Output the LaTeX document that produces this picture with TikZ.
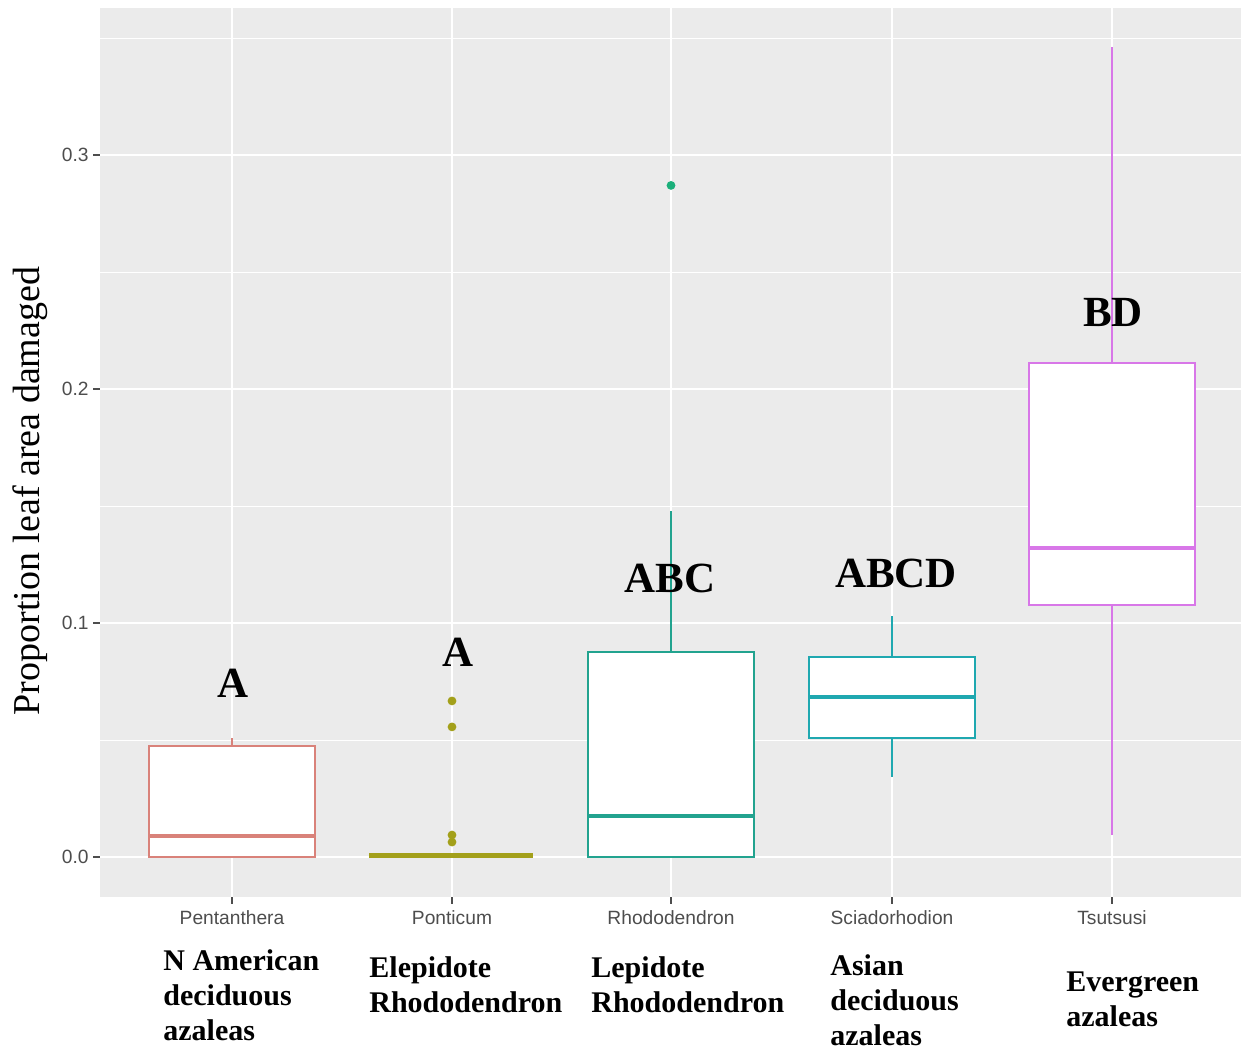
\documentclass[tikz,border=0pt]{standalone}
\usepackage{fontspec}
\setmainfont{Liberation Serif}
\newfontfamily\axisfont{Liberation Sans}
\definecolor{panelgray}{HTML}{EBEBEB}
\definecolor{ticktext}{HTML}{4D4D4D}
\definecolor{pentcol}{HTML}{D9827A}
\definecolor{ponticol}{HTML}{A3A01A}
\definecolor{rhodocol}{HTML}{22A38F}
\definecolor{sciacol}{HTML}{1FA8B0}
\definecolor{tsutcol}{HTML}{D877E8}
\definecolor{outcol}{HTML}{1BAF7A}
\tikzset{
  majorgrid/.style={white, line width=1pt},
  minorgrid/.style={white, line width=0.5pt},
  axtick/.style={ticktext, line width=0.6pt},
  ticklab/.style={font=\axisfont\fontsize{9.6}{11}\selectfont, text=ticktext, inner sep=0pt},
  boxbody/.style={fill=white, line width=1pt},
  medline/.style={line width=1.7pt},
  whisk/.style={line width=0.8pt},
  sigletter/.style={font=\bfseries\fontsize{21.5}{24}\selectfont, anchor=base, inner sep=0pt},
  grouplab/.style={font=\bfseries\fontsize{15}{17.5}\selectfont, align=left, anchor=base west, inner sep=0pt}
}
\begin{document}
\begin{tikzpicture}[x=0.5pt, y=-0.5pt]
\useasboundingbox (0,0) rectangle (1241,1051);
\begin{scope}
\clip (0,0) rectangle (1241,1051);
\fill[panelgray] (100,8) rectangle (1243,897);
\foreach \yy in {38,272,506,740} \draw[minorgrid] (100,\yy) -- (1243,\yy);
\foreach \yy in {155,389,623,857} \draw[majorgrid] (100,\yy) -- (1243,\yy);
\foreach \xx in {232,452,671,892,1112} \draw[majorgrid] (\xx,8) -- (\xx,897);
\end{scope}
% axes
\foreach \yy/\lab in {155/0.3,389/0.2,623/0.1,857/0.0} {
  \draw[axtick] (93,\yy) -- (100,\yy);
  \node[ticklab, anchor=east] (ylab\lab) at (89,\yy) {\lab};
}
\foreach \xx/\lab in {232/Pentanthera,452/Ponticum,671/Rhododendron,892/Sciadorhodion,1112/Tsutsusi} {
  \draw[axtick] (\xx,897) -- (\xx,904);
  \node[ticklab] (xlab\lab) at (\xx,918) {\lab};
}
\node[rotate=90, font=\fontsize{19}{22}\selectfont, inner sep=0pt] (ytitle) at (30,491) {Proportion leaf area damaged};
% boxes in data units
\begin{scope}[shift={(0,857)}, y=1170pt]
\foreach \xx/\lo/\qa/\med/\qb/\hi/\col in {
    232/0/0/0.009/0.0474/0.051/pentcol,
    671/0/0/0.0175/0.0876/0.148/rhodocol,
    892/0.0342/0.0509/0.0684/0.0855/0.103/sciacol,
    1112/0.0094/0.1077/0.132/0.211/0.346/tsutcol} {
  \draw[whisk, \col] (\xx,\lo) -- (\xx,\qa) (\xx,\qb) -- (\xx,\hi);
  \draw[boxbody, draw=\col] (\xx-83,\qa) rectangle (\xx+83,\qb);
  \draw[medline, \col] (\xx-83,\med) -- (\xx+83,\med);
}
\draw[ponticol, line width=2.4pt] (369,0.0006) -- (533,0.0006);
\foreach \v in {0.0667,0.0556,0.0094,0.0064} \fill[ponticol] (452,\v) circle[radius=2.2pt];
\fill[outcol] (671,0.287) circle[radius=2.2pt];
\end{scope}
% letters
\node[sigletter] (sigpent) at (233,697) {A};
\node[sigletter] (sigpont) at (458,666) {A};
\node[sigletter] (sigrhodo) at (670,592) {ABC};
\node[sigletter] (sigscia) at (896,587) {ABCD};
\node[sigletter] (sigtsut) at (1113,326) {BD};
% group names (base = last line)
\node[grouplab] (grppent) at (163,1040) {N American\\deciduous\\azaleas};
\node[grouplab] (grppont) at (369,1012) {Elepidote\\Rhododendron};
\node[grouplab] (grprhodo) at (591,1012) {Lepidote\\Rhododendron};
\node[grouplab] (grpscia) at (830,1045) {Asian\\deciduous\\azaleas};
\node[grouplab] (grptsut) at (1066,1026) {Evergreen\\azaleas};
\end{tikzpicture}
\end{document}
